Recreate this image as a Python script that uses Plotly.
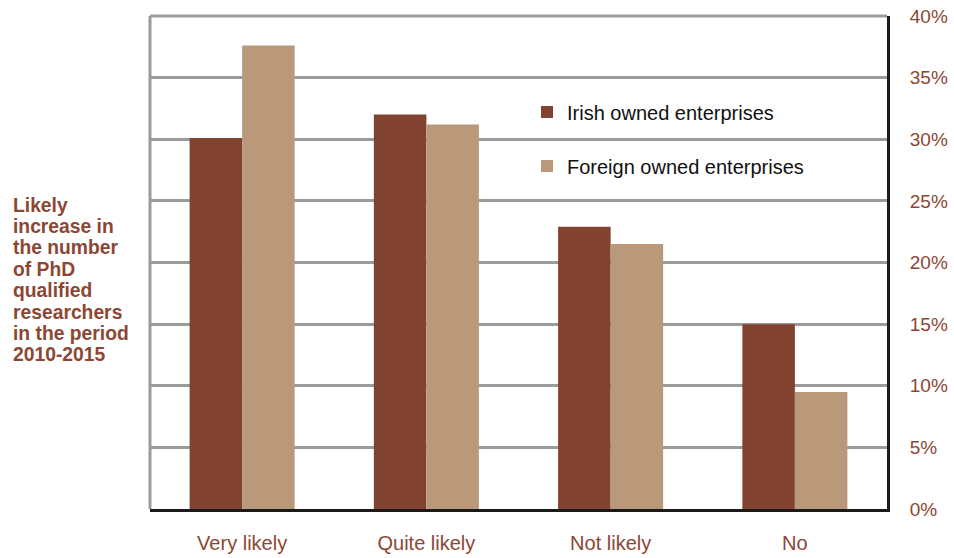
import plotly.graph_objects as go

categories = ["Very likely", "Quite likely", "Not likely", "No"]
irish = [30.1, 32.0, 22.9, 15.0]
foreign = [37.6, 31.2, 21.5, 9.5]
series_names = ["Irish owned enterprises", "Foreign owned enterprises"]
title_lines = ["Likely", "increase in", "the number", "of PhD", "qualified",
               "researchers", "in the period", "2010-2015"]

IRISH_C = "#81432F"
FOREIGN_C = "#BA997A"
BROWN = "#8B4734"
GRID = "#9B9B9B"
FONT = "Liberation Sans, Arial, sans-serif"

W, H = 954, 558
L, R, T, B = 150, 67, 16, 49
pw, ph = W - L - R, H - T - B

def px_x(x):
    return (x - L) / pw

def px_y(y):
    return (H - B - y) / ph

fig = go.Figure()
fig.add_trace(go.Bar(x=categories, y=irish, name=series_names[0],
                     marker=dict(color=IRISH_C, line=dict(width=0)),
                     legend="legend"))
fig.add_trace(go.Bar(x=categories, y=foreign, name=series_names[1],
                     marker=dict(color=FOREIGN_C, line=dict(width=0)),
                     legend="legend2"))

annotations = []
for i, line in enumerate(title_lines):
    annotations.append(dict(
        text="<b>%s</b>" % line, xref="paper", yref="paper",
        x=px_x(11), y=px_y(205 + i * 21.4), xanchor="left", yanchor="middle",
        showarrow=False, font=dict(family=FONT, size=19.3, color=BROWN)))

legend_common = dict(font=dict(family=FONT, size=20, color="#111111"),
                     bgcolor="rgba(0,0,0,0)", xanchor="left", yanchor="middle",
                     itemclick=False)

fig.update_layout(
    width=W, height=H,
    margin=dict(l=L, r=R, t=T, b=B, pad=0, autoexpand=False),
    paper_bgcolor="white", plot_bgcolor="white",
    barmode="group", bargap=0.43, bargroupgap=0,
    font=dict(family=FONT, color=BROWN),
    showlegend=True,
    legend=dict(x=px_x(527), y=px_y(112), **legend_common),
    legend2=dict(x=px_x(527), y=px_y(166), **legend_common),
    xaxis=dict(showgrid=False, showline=True, linecolor="#1A1A1A", linewidth=3,
               ticks="", ticklabelstandoff=14, automargin=False,
               tickfont=dict(family=FONT, size=20, color=BROWN)),
    yaxis=dict(side="right", range=[0, 40], dtick=5, ticksuffix="%",
               showgrid=True, gridcolor=GRID, gridwidth=3,
               zeroline=False, automargin=False,
               showline=True, linecolor="#1A1A1A", linewidth=3,
               ticks="", ticklabelstandoff=16,
               tickfont=dict(family=FONT, size=19, color=BROWN)),
    annotations=annotations,
    shapes=[
        dict(type="line", xref="paper", yref="paper", x0=0, x1=0, y0=0, y1=1,
             line=dict(color=GRID, width=3), layer="above"),
        dict(type="line", xref="paper", yref="paper", x0=0, x1=1, y0=1, y1=1,
             line=dict(color=GRID, width=3), layer="below"),
    ],
)

fig.write_html("out.html",
               config={"displayModeBar": False},
               post_script="document.body.style.margin='0';document.body.style.overflow='hidden';")
